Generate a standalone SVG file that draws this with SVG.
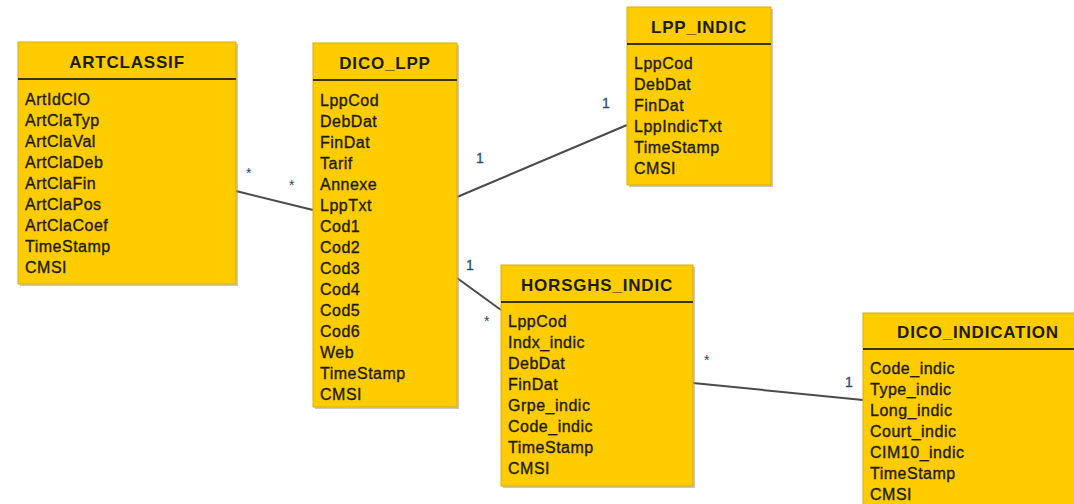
<svg xmlns="http://www.w3.org/2000/svg" width="1074" height="504" viewBox="0 0 1074 504">
<style>
.shadow{fill:#9a9a9a;opacity:0.55}
.box{fill:#FFCC00;stroke:#D9AE00;stroke-width:1}
.sep{stroke:#3a3200;stroke-width:2}
.title{font-family:"Liberation Sans",Arial,sans-serif;font-size:17px;font-weight:bold;fill:#1e1c00;letter-spacing:0.8px;text-anchor:middle}
.field{font-family:"Liberation Sans",Arial,sans-serif;font-size:16px;fill:#1e1c00;stroke:#1e1c00;stroke-width:0.35;letter-spacing:0.5px}
.conn{stroke:#4a4a4a;stroke-width:2;fill:none}
.one{font-family:"Liberation Sans",Arial,sans-serif;font-size:14px;fill:#2f4a68;stroke:#2f4a68;stroke-width:0.3}
.many{font-family:"Liberation Sans",Arial,sans-serif;font-size:14px;fill:#2a3a66}
</style>
<rect width="1074" height="504" fill="#ffffff"/>
<g id="connectors">
<line class="conn" x1="236" y1="191" x2="313" y2="210"/>
<line class="conn" x1="457" y1="197" x2="627" y2="125"/>
<line class="conn" x1="457" y1="278" x2="501" y2="310"/>
<line class="conn" x1="693" y1="383" x2="863" y2="400"/>
<text class="many" x="246" y="178">*</text>
<text class="many" x="289" y="190">*</text>
<text class="one" x="476" y="163">1</text>
<text class="one" x="602" y="108">1</text>
<text class="one" x="466" y="270">1</text>
<text class="many" x="484" y="326">*</text>
<text class="many" x="704" y="365">*</text>
<text class="one" x="845" y="387">1</text>
</g>
<g id="ARTCLASSIF">
<rect class="shadow" x="20" y="44" width="218" height="242"/>
<rect class="box" x="18" y="42" width="218" height="242"/>
<line class="sep" x1="18" y1="79" x2="236" y2="79"/>
<text class="title" x="127" y="68">ARTCLASSIF</text>
<text class="field" x="25" y="105">ArtIdClO</text>
<text class="field" x="25" y="126">ArtClaTyp</text>
<text class="field" x="25" y="147">ArtClaVal</text>
<text class="field" x="25" y="168">ArtClaDeb</text>
<text class="field" x="25" y="189">ArtClaFin</text>
<text class="field" x="25" y="210">ArtClaPos</text>
<text class="field" x="25" y="231">ArtClaCoef</text>
<text class="field" x="25" y="252">TimeStamp</text>
<text class="field" x="25" y="273">CMSI</text>
</g>
<g id="DICO_LPP">
<rect class="shadow" x="315" y="45" width="144" height="364"/>
<rect class="box" x="313" y="43" width="144" height="364"/>
<line class="sep" x1="313" y1="80" x2="457" y2="80"/>
<text class="title" x="385" y="69">DICO_LPP</text>
<text class="field" x="320" y="106">LppCod</text>
<text class="field" x="320" y="127">DebDat</text>
<text class="field" x="320" y="148">FinDat</text>
<text class="field" x="320" y="169">Tarif</text>
<text class="field" x="320" y="190">Annexe</text>
<text class="field" x="320" y="211">LppTxt</text>
<text class="field" x="320" y="232">Cod1</text>
<text class="field" x="320" y="253">Cod2</text>
<text class="field" x="320" y="274">Cod3</text>
<text class="field" x="320" y="295">Cod4</text>
<text class="field" x="320" y="316">Cod5</text>
<text class="field" x="320" y="337">Cod6</text>
<text class="field" x="320" y="358">Web</text>
<text class="field" x="320" y="379">TimeStamp</text>
<text class="field" x="320" y="400">CMSI</text>
</g>
<g id="LPP_INDIC">
<rect class="shadow" x="629" y="9" width="144" height="178"/>
<rect class="box" x="627" y="7" width="144" height="178"/>
<line class="sep" x1="627" y1="44" x2="771" y2="44"/>
<text class="title" x="699" y="33">LPP_INDIC</text>
<text class="field" x="634" y="69">LppCod</text>
<text class="field" x="634" y="90">DebDat</text>
<text class="field" x="634" y="111">FinDat</text>
<text class="field" x="634" y="132">LppIndicTxt</text>
<text class="field" x="634" y="153">TimeStamp</text>
<text class="field" x="634" y="174">CMSI</text>
</g>
<g id="HORSGHS_INDIC">
<rect class="shadow" x="503" y="267" width="192" height="221"/>
<rect class="box" x="501" y="265" width="192" height="221"/>
<line class="sep" x1="501" y1="302" x2="693" y2="302"/>
<text class="title" x="597" y="291">HORSGHS_INDIC</text>
<text class="field" x="508" y="327">LppCod</text>
<text class="field" x="508" y="348">Indx_indic</text>
<text class="field" x="508" y="369">DebDat</text>
<text class="field" x="508" y="390">FinDat</text>
<text class="field" x="508" y="411">Grpe_indic</text>
<text class="field" x="508" y="432">Code_indic</text>
<text class="field" x="508" y="453">TimeStamp</text>
<text class="field" x="508" y="474">CMSI</text>
</g>
<g id="DICO_INDICATION">
<rect class="shadow" x="865" y="315" width="230" height="210"/>
<rect class="box" x="863" y="313" width="230" height="210"/>
<line class="sep" x1="863" y1="349" x2="1093" y2="349"/>
<text class="title" x="978" y="338">DICO_INDICATION</text>
<text class="field" x="870" y="374">Code_indic</text>
<text class="field" x="870" y="395">Type_indic</text>
<text class="field" x="870" y="416">Long_indic</text>
<text class="field" x="870" y="437">Court_indic</text>
<text class="field" x="870" y="458">CIM10_indic</text>
<text class="field" x="870" y="479">TimeStamp</text>
<text class="field" x="870" y="500">CMSI</text>
</g>
</svg>
